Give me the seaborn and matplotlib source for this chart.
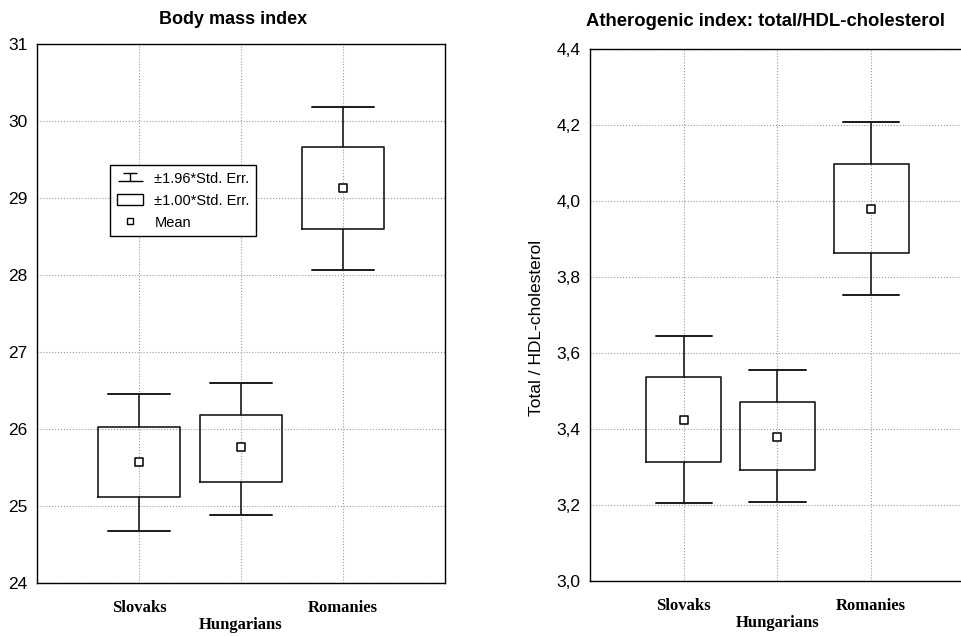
import matplotlib
matplotlib.use('Agg')
import matplotlib.pyplot as plt
import seaborn as sns
import pandas as pd
from matplotlib.lines import Line2D
from matplotlib.patches import Patch
from matplotlib.path import Path
from matplotlib.ticker import FuncFormatter

groups = ['Slovaks', 'Hungarians', 'Romanies']
positions = [1.0, 2.0, 3.0]

bmi_mean = [25.57, 25.76, 29.13]
bmi_se1_lo = [25.12, 25.31, 28.60]
bmi_se1_hi = [26.02, 26.18, 29.66]
bmi_se196_lo = [24.68, 24.88, 28.07]
bmi_se196_hi = [26.45, 26.60, 30.18]

ath_mean = [3.425, 3.380, 3.979]
ath_se1_lo = [3.314, 3.293, 3.863]
ath_se1_hi = [3.538, 3.470, 4.098]
ath_se196_lo = [3.206, 3.208, 3.752]
ath_se196_hi = [3.646, 3.554, 4.208]

sns.set_style('white')
plt.rcParams['font.family'] = ['Liberation Sans', 'DejaVu Sans']
plt.rcParams['text.color'] = 'black'
plt.rcParams['axes.labelcolor'] = 'black'
plt.rcParams['xtick.color'] = 'black'
plt.rcParams['ytick.color'] = 'black'

fig = plt.figure(figsize=(9.62, 6.36), dpi=100)
W, H = 962.0, 636.0
axL = fig.add_axes([37 / W, 1 - 583 / H, (445 - 37) / W, (583 - 44) / H])
axR = fig.add_axes([590 / W, 1 - 581 / H, (965 - 590) / W, (581 - 49) / H])

line_col = '#1a1a1a'


def draw(ax, mean, lo1, hi1, lo2, hi2):
    stats = []
    for g, m, a, b, c, d in zip(groups, mean, lo1, hi1, lo2, hi2):
        stats.append(dict(med=m, q1=a, q3=b, whislo=c, whishi=d, label=g, fliers=[]))
    ax.bxp(stats, positions=positions, widths=0.8, capwidths=0.6, showfliers=False,
           manage_ticks=False,
           boxprops=dict(color=line_col, linewidth=1.2),
           whiskerprops=dict(color=line_col, linewidth=1.2),
           capprops=dict(color=line_col, linewidth=1.4),
           medianprops=dict(linewidth=0))
    df = pd.DataFrame({'x': positions, 'y': mean})
    sns.scatterplot(data=df, x='x', y='y', marker='s', s=30, color='white',
                    edgecolor='black', linewidth=1.1, zorder=6, ax=ax, legend=False)
    ax.set_xlim(0, 4)
    ax.set_xticks(positions)
    ax.set_xticklabels(['Slovaks', '\nHungarians', 'Romanies'],
                       fontfamily='Liberation Serif', fontweight='bold', fontsize=12,
                       linespacing=1.15, color='black')
    ax.set_xlabel('')
    ax.set_ylabel('')
    ax.grid(True, color='#9a9a9a', linestyle=':', linewidth=0.8)
    ax.set_axisbelow(True)
    ax.tick_params(axis='both', length=0)
    ax.tick_params(axis='x', pad=12)
    ax.tick_params(axis='y', pad=7, labelsize=12.5, labelcolor='black')
    for s in ax.spines.values():
        s.set_visible(True)
        s.set_color('black')
        s.set_linewidth(1.0)


draw(axL, bmi_mean, bmi_se1_lo, bmi_se1_hi, bmi_se196_lo, bmi_se196_hi)
axL.set_ylim(24, 31)
axL.set_yticks([24, 25, 26, 27, 28, 29, 30, 31])

draw(axR, ath_mean, ath_se1_lo, ath_se1_hi, ath_se196_lo, ath_se196_hi)
axR.set_ylim(3.0, 4.4)
axR.set_yticks([3.0, 3.2, 3.4, 3.6, 3.8, 4.0, 4.2, 4.4])
axR.yaxis.set_major_formatter(FuncFormatter(lambda v, p: f'{v:.1f}'.replace('.', ',')))
axR.set_ylabel('Total / HDL-cholesterol', fontsize=12.5, color='black', va='center')
axR.yaxis.set_label_coords(-0.143, 0.475)

fig.text(233 / W, 1 - 19 / H, 'Body mass index', ha='center', va='center',
         fontsize=13, fontweight='bold', color='black')
fig.text(765 / W, 1 - 21 / H, 'Atherogenic index: total/HDL-cholesterol', ha='center',
         va='center', fontsize=13.3, fontweight='bold', color='black')

# legend
whisk_path = Path([(-0.55, 0.3), (0.55, 0.3), (0, 0.3), (0, -0.3), (-1, -0.3), (1, -0.3)],
                  [Path.MOVETO, Path.LINETO, Path.MOVETO, Path.LINETO, Path.MOVETO, Path.LINETO])
h1 = Line2D([], [], marker=whisk_path, markersize=18, linestyle='none',
            markeredgecolor='black', markeredgewidth=1.0, markerfacecolor='none')
h2 = Patch(facecolor='white', edgecolor='black', linewidth=1.0)
h3 = Line2D([], [], marker='s', markersize=5, linestyle='none',
            markerfacecolor='white', markeredgecolor='black', markeredgewidth=1.0)
leg = axL.legend([h1, h2, h3], ['±1.96*Std. Err.', '±1.00*Std. Err.', 'Mean'],
                 loc='upper left', bbox_to_anchor=((110 - 37) / 408, (583 - 165) / 539),
                 borderaxespad=0, fontsize=10.5, frameon=True, fancybox=False,
                 edgecolor='black', framealpha=1, handlelength=1.8, handleheight=0.8,
                 labelspacing=0.55, borderpad=0.45, handletextpad=0.8)
leg.get_frame().set_linewidth(1.0)
for t in leg.get_texts():
    t.set_color('black')

fig.savefig('out.png', dpi=100)
